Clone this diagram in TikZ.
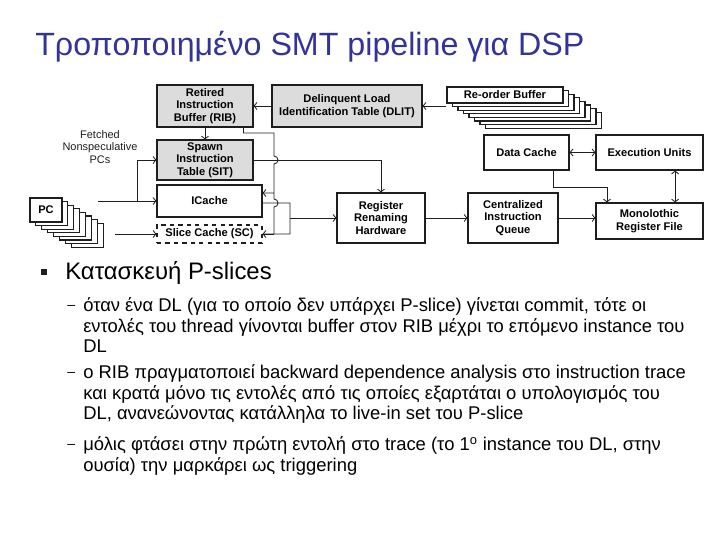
\documentclass[tikz,border=0pt]{standalone}
\usepackage{fontspec}
\setmainfont{Liberation Sans}
\usetikzlibrary{arrows.meta}
\definecolor{titleblue}{HTML}{333399}
\definecolor{boxgray}{HTML}{DCDCDC}
\definecolor{darkline}{HTML}{1E1E1E}

\begin{document}
\begin{tikzpicture}[x=0.025cm, y=-0.025cm,
  blk/.style={draw=darkline, line width=0.8pt, fill=white, inner sep=0pt, align=center,
    font=\fontsize{7.9}{8.9}\selectfont\bfseries},
  gblk/.style={blk, fill=boxgray},
  wire/.style={darkline, line width=0.6pt},
  body/.style={inner sep=0pt, anchor=north west, align=left, font=\fontsize{13.1}{14.5}\selectfont},
  itemdash/.style={anchor=base west, inner sep=0pt, font=\fontsize{10}{12}\selectfont},
  >={Straight Barb[length=2pt,width=5pt]}]

  \useasboundingbox (0,0) rectangle (720,540);

  \node (title) at (35,55) [anchor=base west, inner sep=0pt, titleblue, font=\fontsize{22.9}{26}\selectfont] {Τροποποιημένο SMT pipeline για DSP};

  % stacked boxes behind the ROB and the PC
  \foreach \i in {7,...,1}
    \draw[darkline, line width=0.8pt, fill=white] ({447+5.5*\i},{87+3.6*\i}) rectangle ++(116,16);
  \foreach \i in {7,...,1}
    \draw[darkline, line width=0.8pt, fill=white] ({30+5.9*\i},{198+3.6*\i}) rectangle ++(32,24);

  \node (rob) at (505,95) [blk, minimum width=2.9cm, minimum height=0.4cm] {Re-order Buffer};
  \node (pc) at (46,210) [blk, minimum width=0.8cm, minimum height=0.6cm] {PC};

  \node (rib) at (205,106) [gblk, minimum width=2.4cm, minimum height=1.05cm] {Retired\\Instruction\\Buffer (RIB)};
  \node (dlit) at (347,106) [gblk, minimum width=3.75cm, minimum height=1.05cm] {Delinquent Load\\Identification Table (DLIT)};
  \node (sit) at (205,160) [gblk, minimum width=2.4cm, minimum height=1.0cm] {Spawn\\Instruction\\Table (SIT)};
  \node (icache) at (209.5,201) [blk, minimum width=2.625cm, minimum height=0.8cm] {ICache};
  \node (sc) at (209.5,234) [blk, dashed, minimum width=2.625cm, minimum height=0.45cm] {Slice Cache (SC)};
  \node (rrh) at (381,218) [blk, minimum width=2.2cm, minimum height=1.25cm] {Register\\Renaming\\Hardware};
  \node (ciq) at (513,218) [blk, minimum width=2.25cm, minimum height=1.25cm] {Centralized\\Instruction\\Queue};
  \node (dc) at (526.5,152.5) [blk, minimum width=2.125cm, minimum height=0.875cm] {Data Cache};
  \node (eu) at (649.5,152.5) [blk, minimum width=2.675cm, minimum height=0.875cm] {Execution Units};
  \node (mrf) at (649.5,221) [blk, minimum width=2.675cm, minimum height=0.9cm] {Monolothic\\Register File};

  \node (fetched) at (100,147) [align=center, darkline, font=\fontsize{7.8}{9}\selectfont] {Fetched\\Nonspeculative\\PCs};

  \coordinate (pcout) at (98,201);
  \coordinate (pcsc) at (115,234);
  \coordinate (split) at (137,201);
  \coordinate (dcbend) at (607,187);

  \draw[wire, ->] (pcout) -- (icache.west);
  \draw[wire, ->] (split) |- (sit.west);
  \draw[wire, ->] (pcsc) -- (sc.west);
  \draw[wire, ->] (rob.south west |- dlit.east) -- (dlit.east);
  \draw[wire, ->] (dlit.west) -- (rib.east);
  \draw[wire, ->] (rib.south) -- (sit.north);
  \draw[wire, ->] (sit.east) -| (rrh.north);
  % RIB feeds ICache and SC, hopping over the crossing wires
  \draw[wire] ([xshift=-0.25cm]rib.south east) |- (274,133) -- (274,156)
    arc[start angle=90, end angle=-90, radius=0.1cm] -- (274,199)
    arc[start angle=90, end angle=-90, radius=0.1cm] -- (274,234);
  \draw[wire, ->] (274,193) -- ([yshift=0.2cm]icache.east);
  \draw[wire, ->] (274,234) -- (sc.east);
  \draw[wire] ([yshift=-0.05cm]icache.east) -- (290,203) -- (290,234) -- (sc.east);
  \draw[wire, ->] (290,218) -- (rrh.west);
  \draw[wire, ->] (rrh) -- (ciq);
  \draw[wire, ->] (ciq.east) -- (ciq.east -| mrf.west);
  \draw[wire, <->] (dc) -- (eu);
  \draw[wire, ->] ([xshift=-0.4cm]dc.south east) |- (dcbend) -- (dcbend |- mrf.north);
  \draw[wire, <->] ([xshift=0.64cm]eu.south) -- ([xshift=0.64cm]mrf.north);

  % text below the figure
  \node (sq) at (44,272) [fill=darkline, minimum size=0.14cm, inner sep=0pt] {};
  \node (head) at (65,279) [anchor=base west, inner sep=0pt, font=\fontsize{17}{20}\selectfont] {Κατασκευή P-slices};

  \node (d1) at (67,309) [itemdash] {–};
  \node (d2) at (67,376) [itemdash] {–};
  \node (d3) at (67,448) [itemdash] {–};

  \node (t1) at (83,297.5) [body] {όταν ένα DL (για το οποίο δεν υπάρχει P-slice) γίνεται commit, τότε οι\\εντολές του thread γίνονται buffer στον RIB μέχρι το επόμενο instance του\\DL};
  \node (t2) at (83,364.5) [body] {ο RIB πραγματοποιεί backward dependence analysis στο instruction trace\\και κρατά μόνο τις εντολές από τις οποίες εξαρτάται ο υπολογισμός του\\DL, ανανεώνοντας κατάλληλα το live-in set του P-slice};
  \node (t3) at (83,436.5) [body] {μόλις φτάσει στην πρώτη εντολή στο trace (το 1\textsuperscript{o} instance του DL, στην\\ουσία) την μαρκάρει ως triggering};
\end{tikzpicture}
\end{document}
